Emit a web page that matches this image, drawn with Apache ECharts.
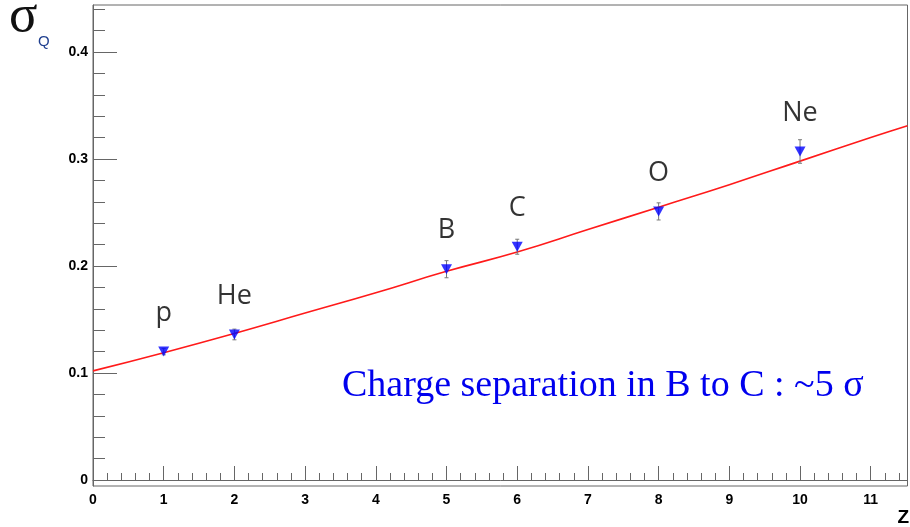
<!DOCTYPE html>
<html>
<head>
<meta charset="utf-8">
<script src="https://cdn.jsdelivr.net/npm/echarts@6/dist/echarts.min.js"></script>
<style>
  html, body { margin: 0; padding: 0; background: #fff; }
  #chart { width: 910px; height: 527px; }
</style>
</head>
<body>
<div id="chart"></div>
<script>
// Measured charge resolution per nucleus
const nuclei  = ['p', 'He', 'B', 'C', 'O', 'Ne'];
const chargeZ = [1, 2, 5, 6, 8, 10];
const sigmaQ  = [0.120, 0.136, 0.197, 0.218, 0.251, 0.307];
const sigmaErr = [0.003, 0.005, 0.008, 0.007, 0.008, 0.011];

// Fitted resolution curve, sampled along Z
const fitZ = [0, 1, 2, 3, 4, 5, 6, 7, 8, 9, 10, 11, 11.52];
const fitQ = [0.102, 0.119, 0.137, 0.156, 0.175, 0.195, 0.213, 0.234, 0.255, 0.276, 0.298, 0.320, 0.331];

// Axis ticks
const xMajor = [0, 1, 2, 3, 4, 5, 6, 7, 8, 9, 10, 11];
const xMinor = [];
for (let i = 1; i <= 57; i++) { if (i % 5 !== 0) xMinor.push(+(i * 0.2).toFixed(1)); }
const yMajor = [0, 0.1, 0.2, 0.3, 0.4];
const yMinor = [];
for (let i = 1; i <= 22; i++) { if (i % 5 !== 0) yMinor.push(+(i * 0.02).toFixed(2)); }

const X_MIN = 0, X_MAX = 11.52, Y_MIN = -0.0056, Y_MAX = 0.4439;
const frameColor = '#666';
const tickFont = { color: '#000', fontWeight: 'bold', fontSize: 14, fontFamily: 'Liberation Sans, Arial, sans-serif' };

const chart = echarts.init(document.getElementById('chart'), null, { renderer: 'canvas' });

const points = chargeZ.map((z, i) => ({ name: nuclei[i], value: [z, sigmaQ[i]] }));
const bars = chargeZ.map((z, i) => [z, sigmaQ[i] - sigmaErr[i], sigmaQ[i] + sigmaErr[i]]);
const fitLine = fitZ.map((z, i) => [z, fitQ[i]]);

chart.setOption({
  animation: false,
  backgroundColor: '#fff',
  grid: { left: 93, right: 2.5, top: 5, bottom: 41, show: true, borderColor: frameColor, borderWidth: 1 },
  xAxis: [
    {
      type: 'value', min: X_MIN, max: X_MAX,
      axisLine: { show: true, lineStyle: { color: frameColor, width: 1 } },
      axisTick: { show: true, inside: true, length: 14, customValues: xMajor, lineStyle: { color: frameColor } },
      axisLabel: Object.assign({ margin: 7, customValues: xMajor }, tickFont),
      splitLine: { show: false }
    },
    {
      type: 'value', min: X_MIN, max: X_MAX, position: 'bottom',
      axisLine: { show: false },
      axisTick: { show: true, inside: true, length: 7, customValues: xMinor, lineStyle: { color: frameColor } },
      axisLabel: { show: false },
      splitLine: { show: false }
    }
  ],
  yAxis: [
    {
      type: 'value', min: Y_MIN, max: Y_MAX,
      axisLine: { show: true, lineStyle: { color: frameColor, width: 1 } },
      axisTick: { show: true, inside: true, length: 24, customValues: yMajor, lineStyle: { color: frameColor } },
      axisLabel: Object.assign({ margin: 5, customValues: yMajor, formatter: v => String(+v.toFixed(2)) }, tickFont),
      splitLine: { show: false }
    },
    {
      type: 'value', min: Y_MIN, max: Y_MAX, position: 'left',
      axisLine: { show: false },
      axisTick: { show: true, inside: true, length: 12, customValues: yMinor, lineStyle: { color: frameColor } },
      axisLabel: { show: false },
      splitLine: { show: false }
    }
  ],
  series: [
    {
      type: 'line', data: fitLine, smooth: true, showSymbol: false, symbol: 'none',
      lineStyle: { color: '#ff1a1a', width: 1.6 }, z: 2, silent: true
    },
    {
      type: 'custom', data: bars, z: 3, silent: true,
      renderItem: (params, api) => {
        const x = api.value(0);
        const lo = api.coord([x, api.value(1)]);
        const hi = api.coord([x, api.value(2)]);
        const style = { stroke: '#777', lineWidth: 1 };
        return {
          type: 'group',
          children: [
            { type: 'line', shape: { x1: lo[0], y1: lo[1], x2: hi[0], y2: hi[1] }, style },
            { type: 'line', shape: { x1: lo[0] - 2, y1: lo[1], x2: lo[0] + 2, y2: lo[1] }, style },
            { type: 'line', shape: { x1: hi[0] - 2, y1: hi[1], x2: hi[0] + 2, y2: hi[1] }, style }
          ]
        };
      }
    },
    {
      type: 'scatter', data: points, z: 4,
      symbol: 'triangle', symbolRotate: 180, symbolSize: [11, 10],
      itemStyle: { color: '#0000ff' },
      label: {
        show: true, position: 'top', distance: 20,
        formatter: p => p.name,
        color: '#000', fontSize: 27, fontFamily: 'Open Sans, Noto Sans, sans-serif'
      }
    }
  ],
  graphic: [
    { type: 'text', left: 9, top: -9, style: { text: 'σ', font: '53px "Liberation Serif", serif', fill: '#111' } },
    { type: 'text', left: 38, top: 34, style: { text: 'Q', font: '15px "Liberation Sans Narrow", "Liberation Sans", sans-serif', fill: '#1f3f8f' } },
    { type: 'text', right: 1, top: 508, style: { text: 'Z', font: 'bold 19px "Liberation Sans", Arial, sans-serif', fill: '#000' } },
    { type: 'text', left: 342, top: 367, style: { text: 'Charge separation in B to C : ~5 σ', font: '38px "Liberation Serif", serif', fill: '#0000ee' } }
  ]
});
</script>
</body>
</html>
